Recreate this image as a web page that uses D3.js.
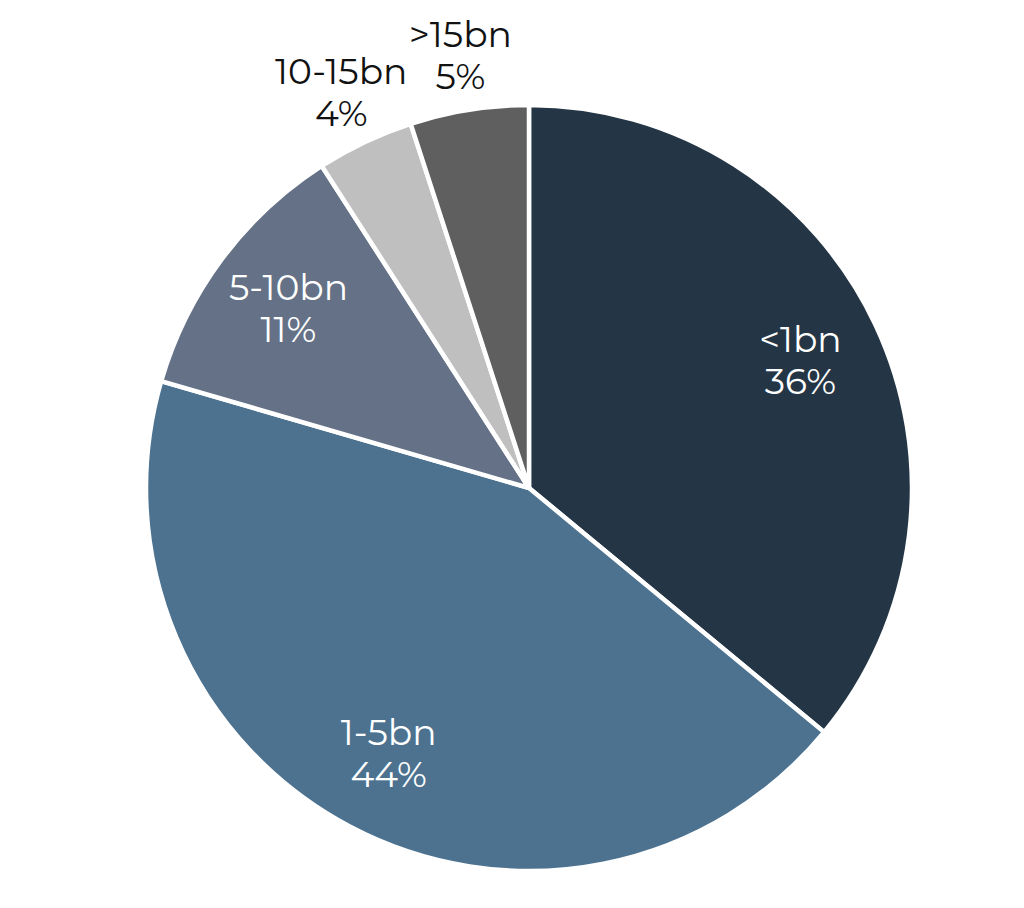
<!DOCTYPE html>
<html><head><meta charset="utf-8">
<script src="https://cdn.jsdelivr.net/npm/d3@7"></script>
<style>body{margin:0;background:#fff}svg{display:block}</style>
</head><body>
<svg id="c" width="1024" height="908"></svg>
<script>
const categories = ["<1bn", "1-5bn", "5-10bn", "10-15bn", ">15bn"];
const values = [36.0, 43.5, 11.4, 4.1, 5.0];
const labels = ["36%", "44%", "11%", "4%", "5%"];
const colors = ["#243645", "#4c7290", "#647186", "#bfbfbf", "#5f5f5f"];
const outside = [false, false, false, true, true];

const svg = d3.select("#c");
const cx = 529, cy = 488, R = 383;
const g = svg.append("g").attr("transform", `translate(${cx},${cy})`);
const data = categories.map((c, i) => ({c, v: values[i], l: labels[i], col: colors[i], out: outside[i]}));
const pie = d3.pie().value(d => d.v).sort(null);
const arcs = pie(data);
const arc = d3.arc().innerRadius(0).outerRadius(R);
g.selectAll("path").data(arcs).join("path")
  .attr("d", arc).attr("fill", d => d.data.col)
  .attr("stroke", "#fff").attr("stroke-width", 4.5).attr("stroke-linejoin", "miter");

const inArc = d3.arc().innerRadius(300).outerRadius(300);
const outArc = d3.arc().innerRadius(438).outerRadius(438);
const lab = g.selectAll("text").data(arcs).join("text")
  .attr("transform", d => { const p = (d.data.out ? outArc : inArc).centroid(d); return `translate(${p[0]},${p[1]})`; })
  .attr("text-anchor", "middle")
  .attr("font-family", "Montserrat, 'Open Sans', sans-serif")
  .attr("font-size", 36)
  .attr("fill", d => d.data.out ? "#111" : "#fff");
lab.append("tspan").attr("x", 0).attr("dy", "-0.24em").text(d => d.data.c);
lab.append("tspan").attr("x", 0).attr("dy", "1.17em").text(d => d.data.l);
</script>
</body></html>
